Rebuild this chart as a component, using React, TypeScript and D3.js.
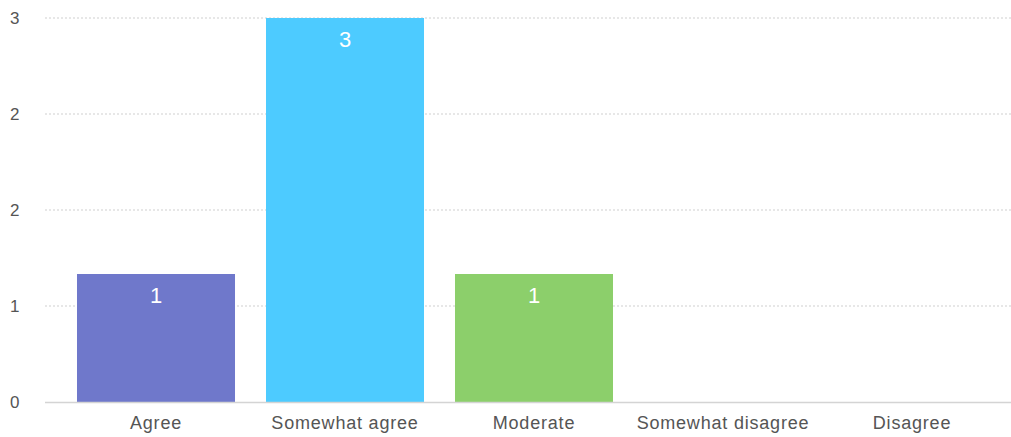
import React from "react";
import * as d3 from "d3";

const categories = ["Agree", "Somewhat agree", "Moderate", "Somewhat disagree", "Disagree"];
const values = [1, 3, 1, 0, 0];
const colors = ["#6f78cb", "#4dcbff", "#8ccf6b", "#f5a623", "#e86c6c"];
const yTicks = [0, 0.75, 1.5, 2.25, 3];

const W = 1011;
const H = 437;
const FONT = "'Liberation Sans', Arial, Helvetica, sans-serif";

export default function App() {
  const x = d3
    .scaleBand<string>()
    .domain(categories)
    .range([61.5, 1006.5])
    .paddingInner(0.164)
    .paddingOuter(0.082);
  const y = d3.scaleLinear().domain([0, 3]).range([402, 18]);

  return (
    <svg
      width={W}
      height={H}
      style={{ position: "absolute", left: 0, top: 0, background: "#fff" }}
      fontFamily={FONT}
    >
      {yTicks.map((t, i) =>
        t === 0 ? null : (
          <line
            key={"g" + i}
            x1={45}
            x2={W}
            y1={y(t)}
            y2={y(t)}
            stroke="#cfcfcf"
            strokeWidth={1}
            strokeDasharray="2,2"
          />
        )
      )}
      {yTicks.map((t, i) => (
        <text
          key={"yl" + i}
          x={10}
          y={y(t)}
          dy="0.36em"
          fontSize={17}
          fill="#555"
        >
          {Math.round(t)}
        </text>
      ))}
      {categories.map((c, i) =>
        values[i] > 0 ? (
          <g key={"b" + i}>
            <rect
              x={x(c)}
              y={y(values[i])}
              width={x.bandwidth()}
              height={y(0) - y(values[i])}
              fill={colors[i]}
            />
            <text
              x={(x(c) as number) + x.bandwidth() / 2}
              y={y(values[i]) + 29}
              textAnchor="middle"
              fontSize={22}
              fill="#fff"
            >
              {values[i]}
            </text>
          </g>
        ) : null
      )}
      <line x1={45} x2={W} y1={y(0) + 0.5} y2={y(0) + 0.5} stroke="#d4d4d4" strokeWidth={1.5} />
      {categories.map((c, i) => (
        <text
          key={"xl" + i}
          x={(x(c) as number) + x.bandwidth() / 2}
          y={429}
          textAnchor="middle"
          fontSize={18}
          letterSpacing={0.8}
          fill="#555"
        >
          {c}
        </text>
      ))}
    </svg>
  );
}
